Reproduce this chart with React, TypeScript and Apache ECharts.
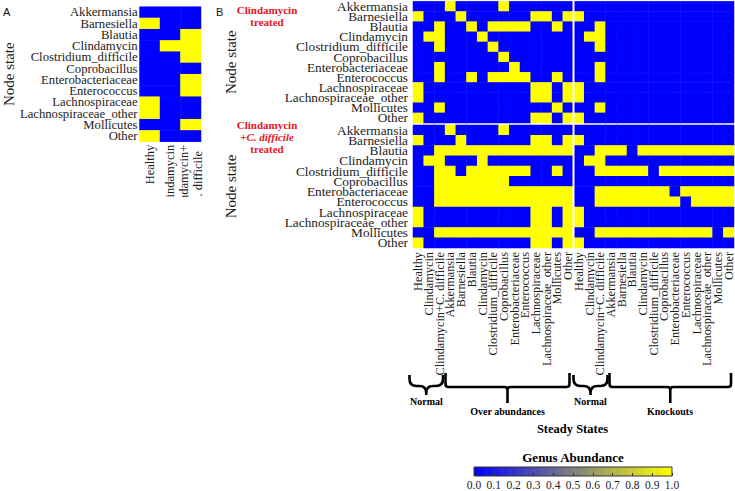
import React, { useEffect, useRef } from 'react';
import * as echarts from 'echarts';

const SERIF = '"Liberation Serif", "Times New Roman", serif';
const SANS = '"Liberation Sans", Arial, sans-serif';
const INK = '#1c1c1c';
const RED = '#e8141c';

// ---------- data ----------
const genera = [
  'Akkermansia', 'Barnesiella', 'Blautia', 'Clindamycin', 'Clostridium_difficile',
  'Coprobacillus', 'Enterobacteriaceae', 'Enterococcus', 'Lachnospiraceae',
  'Lachnospiraceae_other', 'Mollicutes', 'Other',
];

// Panel A columns
const panelAStates = ['Healthy', 'Clindamycin', 'Clindamycin+\nC. difficile\u00a0\u00a0'];

// Panel A values (rows = genera; cols = Healthy, Clindamycin, Clindamycin+C. difficile)
const panelAValues = [
  [0, 0, 0],
  [1, 0, 0],
  [0, 0, 1],
  [0, 1, 1],
  [0, 0, 1],
  [0, 0, 0],
  [0, 0, 1],
  [0, 0, 1],
  [1, 0, 0],
  [1, 0, 0],
  [0, 0, 1],
  [1, 0, 0],
];

// Panel B steady-state columns
const normalStates = ['Healthy', 'Clindamycin', 'Clindamycin+C. difficile'];
const overAbundanceStates = genera;
const knockoutStates = genera;
const steadyStates = [...normalStates, ...overAbundanceStates, ...normalStates, ...knockoutStates];

// Panel B, top: Clindamycin treated (rows = genera, 30 steady states)
const clindamycinTreated = [
  [0,0,0,1,0,0,0,0,1,0,0,0,0,0,0, 0,0,0,0,0,0,0,0,0,0,0,0,0,0,0],
  [1,0,0,0,1,0,0,0,0,0,0,1,1,0,1, 1,0,0,0,0,0,0,0,0,0,0,0,0,0,0],
  [0,0,1,0,0,1,0,1,1,1,1,0,0,1,0, 0,0,1,0,0,0,0,0,0,0,0,0,0,0,0],
  [0,1,1,0,0,0,1,0,0,0,0,0,0,0,0, 0,1,1,0,0,0,0,0,0,0,0,0,0,0,0],
  [0,0,1,0,0,0,0,1,0,0,0,0,0,0,0, 0,0,1,0,0,0,0,0,0,0,0,0,0,0,0],
  [0,0,0,0,0,0,0,0,1,0,0,0,0,0,0, 0,0,0,0,0,0,0,0,0,0,0,0,0,0,0],
  [0,0,1,0,0,0,0,0,0,1,0,0,0,0,0, 0,0,1,0,0,0,0,0,0,0,0,0,0,0,0],
  [0,0,1,0,0,1,0,1,1,1,1,0,0,1,0, 0,0,1,0,0,0,0,0,0,0,0,0,0,0,0],
  [1,0,0,0,0,0,0,0,0,0,0,1,1,0,1, 1,0,0,0,0,0,0,0,0,0,0,0,0,0,0],
  [1,0,0,0,0,0,0,0,0,0,0,1,1,0,1, 1,0,0,0,0,0,0,0,0,0,0,0,0,0,0],
  [0,0,1,0,0,0,0,0,0,0,0,0,0,1,0, 0,0,1,0,0,0,0,0,0,0,0,0,0,0,0],
  [1,0,0,0,0,0,0,0,0,0,0,1,1,0,1, 1,0,0,0,0,0,0,0,0,0,0,0,0,0,0],
];

// Panel B, bottom: Clindamycin + C. difficile treated
const clindamycinCdiffTreated = [
  [0,0,0,1,0,0,0,0,1,0,0,0,0,0,0, 0,0,0,0,0,0,0,0,0,0,0,0,0,0,0],
  [1,0,0,0,1,0,0,0,0,0,0,1,1,0,1, 1,0,0,0,0,0,0,0,0,0,0,0,0,0,0],
  [0,0,1,1,1,1,1,1,1,1,1,1,1,1,1, 0,0,1,1,1,0,1,1,1,1,1,1,1,1,1],
  [0,1,1,0,0,0,1,0,0,0,0,0,0,0,0, 0,1,1,0,0,0,0,0,0,0,0,0,0,0,0],
  [0,0,1,1,0,1,1,1,1,1,1,0,0,1,0, 0,0,1,1,1,1,1,0,1,1,1,1,1,1,1],
  [0,0,1,1,1,1,1,1,1,0,0,0,0,0,0, 0,0,0,0,0,0,0,0,0,0,0,0,0,0,0],
  [0,0,1,1,1,1,1,1,1,1,1,1,1,1,1, 0,0,1,1,1,1,1,1,1,0,1,1,1,1,1],
  [0,0,1,1,1,1,1,1,1,1,1,1,1,1,1, 0,0,1,1,1,1,1,1,1,1,0,1,1,1,1],
  [1,0,0,0,0,0,0,0,0,0,0,1,1,0,1, 1,0,0,0,0,0,0,0,0,0,0,0,0,0,0],
  [1,0,0,0,0,0,0,0,0,0,0,1,1,0,1, 1,0,0,0,0,0,0,0,0,0,0,0,0,0,0],
  [0,0,1,1,1,1,1,1,1,1,1,1,1,1,1, 0,0,1,1,1,1,1,1,1,1,1,1,1,0,1],
  [1,0,0,0,0,0,0,0,0,0,0,1,1,0,1, 1,0,0,0,0,0,0,0,0,0,0,0,0,0,0],
];

// Colour bar
const abundanceMin = 0;
const abundanceMax = 1;
const abundanceStep = 0.1;

// ---------- helpers ----------
function toCells(matrix: number[][]) {
  const out: number[][] = [];
  matrix.forEach((row, r) => row.forEach((v, c) => out.push([c, r, v])));
  return out;
}

function bracePath(x1: number, x2: number, y0: number, y1: number, y2: number, r: number) {
  const xm = (x1 + x2) / 2;
  return `M${x1} ${y0} L${x1} ${y1 - r} Q${x1} ${y1} ${x1 + r} ${y1} L${xm - r} ${y1} Q${xm} ${y1} ${xm} ${y1 + r} L${xm} ${y2} ` +
    `M${xm} ${y1 + r} Q${xm} ${y1} ${xm + r} ${y1} L${x2 - r} ${y1} Q${x2} ${y1} ${x2} ${y1 - r} L${x2} ${y0}`;
}

echarts.graphic.registerShape('braceNormalA', echarts.graphic.extendPath(bracePath(409.5, 443, 375, 386, 395, 7), {}));
echarts.graphic.registerShape('braceOver', echarts.graphic.extendPath(bracePath(445.5, 569.5, 373, 387, 403, 3), {}));
echarts.graphic.registerShape('braceNormalB', echarts.graphic.extendPath(bracePath(573.5, 607.5, 375, 386, 395, 7), {}));
echarts.graphic.registerShape('braceKnock', echarts.graphic.extendPath(bracePath(609.5, 731, 373, 387, 403, 3), {}));

function txt(text: string, x: number, y: number, font: string, fill = INK, align = 'center') {
  return {
    type: 'text', x, y, z: 100,
    style: { text, font, fill, align, textAlign: align, verticalAlign: 'middle', textVerticalAlign: 'middle' },
  };
}

export default function App() {
  const ref = useRef<HTMLDivElement>(null);

  useEffect(() => {
    if (!ref.current) return;
    const chart = echarts.init(ref.current, undefined, { renderer: 'svg' });

    const catY = (gridIndex: number, fontSize: number, margin: number, nameGap: number, lineHeight: number) => ({
      type: 'category', gridIndex, data: genera, inverse: true,
      axisLine: { show: false }, axisTick: { show: false }, splitLine: { show: false },
      axisLabel: { interval: 0, fontSize, margin, lineHeight, color: INK, fontFamily: SERIF },
      name: 'Node state', nameLocation: 'middle', nameRotate: 90, nameGap,
      nameTextStyle: { fontSize: 15, color: INK, fontFamily: SERIF },
    });

    const heat = (xi: number, data: number[][]) => ({
      type: 'heatmap', xAxisIndex: xi, yAxisIndex: xi, data,
      itemStyle: { borderWidth: 0 }, emphasis: { disabled: true }, silent: true,
    });

    const option: any = {
      animation: false,
      textStyle: { fontFamily: SERIF },
      visualMap: {
        show: false, type: 'continuous', min: abundanceMin, max: abundanceMax,
        seriesIndex: [0, 1, 2], inRange: { color: ['#0000ff', '#ffff00'] },
      },
      grid: [
        { left: 137, top: 6.7, width: 64, height: 135 },
        { left: 413, top: 0, width: 321, height: 123 },
        { left: 413, top: 125, width: 321, height: 123 },
        {
          left: 474, top: 467, width: 198, height: 10, show: true,
          backgroundColor: new echarts.graphic.LinearGradient(0, 0, 1, 0, [
            { offset: 0, color: '#0000ff' }, { offset: 1, color: '#ffff00' },
          ]),
          borderColor: '#333', borderWidth: 1,
        },
      ],
      xAxis: [
        {
          type: 'category', gridIndex: 0, data: panelAStates,
          axisLine: { show: false }, axisTick: { show: false },
          axisLabel: { rotate: 90, interval: 0, fontSize: 12.5, margin: 3, lineHeight: 14, color: INK, fontFamily: SERIF },
        },
        { type: 'category', gridIndex: 1, data: steadyStates, show: false },
        {
          type: 'category', gridIndex: 2, data: steadyStates,
          axisLine: { show: false }, axisTick: { show: false },
          axisLabel: { rotate: 90, interval: 0, fontSize: 12.3, margin: 4, lineHeight: 10, color: INK, fontFamily: SERIF },
        },
        {
          type: 'value', gridIndex: 3, min: abundanceMin, max: abundanceMax, interval: abundanceStep,
          axisLine: { show: false }, splitLine: { show: false },
          axisTick: { show: true, inside: true, length: 3, lineStyle: { color: '#333' } },
          axisLabel: {
            fontSize: 11.5, margin: 3, color: INK, fontFamily: SERIF, showMinLabel: true, showMaxLabel: true,
            formatter: (v: number) => v.toFixed(1),
          },
        },
      ],
      yAxis: [
        catY(0, 12.7, 2, 121, 11),
        catY(1, 13.3, 5, 175, 10),
        catY(2, 13.3, 5, 175, 10),
        { type: 'value', gridIndex: 3, min: 0, max: 1, show: false },
      ],
      series: [
        heat(0, toCells(panelAValues)),
        heat(1, toCells(clindamycinTreated)),
        heat(2, toCells(clindamycinCdiffTreated)),
        { type: 'scatter', xAxisIndex: 3, yAxisIndex: 3, data: [], silent: true },
      ],
      graphic: [
        // clip panel A labels
        { type: 'rect', z: 90, shape: { x: 128, y: 197, width: 86, height: 60 }, style: { fill: '#fff' } },
        // white separator between normal/over-abundance and normal/knockout blocks
        { type: 'line', z: 95, shape: { x1: 573.5, y1: 0, x2: 573.5, y2: 248 }, style: { stroke: '#fff', lineWidth: 2 } },
        txt('A', 3, 12, `11px ${SANS}`, '#111', 'left'),
        txt('B', 216, 12, `11px ${SANS}`, '#111', 'left'),
        txt('Clindamycin', 267, 10, `bold 11px ${SERIF}`, RED),
        txt('treated', 267, 21.5, `bold 11px ${SERIF}`, RED),
        txt('Clindamycin', 267, 124.5, `bold 11px ${SERIF}`, RED),
        {
          type: 'text', x: 267, y: 137, z: 100,
          style: {
            text: '{n|+}{i|C. difficile}', align: 'center', textAlign: 'center', verticalAlign: 'middle', textVerticalAlign: 'middle',
            fill: RED, font: `bold 11px ${SERIF}`,
            rich: {
              n: { fill: RED, fontWeight: 'bold', fontSize: 11, fontFamily: SERIF },
              i: { fill: RED, fontWeight: 'bold', fontStyle: 'italic', fontSize: 11, fontFamily: SERIF },
            },
          },
        },
        txt('treated', 267, 149, `bold 11px ${SERIF}`, RED),
        // braces
        { type: 'braceNormalA', z: 100, style: { fill: 'none', stroke: '#000', lineWidth: 2.6 } },
        { type: 'braceOver', z: 100, style: { fill: 'none', stroke: '#000', lineWidth: 2.6 } },
        { type: 'braceNormalB', z: 100, style: { fill: 'none', stroke: '#000', lineWidth: 2.6 } },
        { type: 'braceKnock', z: 100, style: { fill: 'none', stroke: '#000', lineWidth: 2.6 } },
        txt('Normal', 426.5, 401, `bold 10px ${SERIF}`, '#000'),
        txt('Over abundances', 507.5, 411, `bold 10px ${SERIF}`, '#000'),
        txt('Normal', 590.5, 401, `bold 10px ${SERIF}`, '#000'),
        txt('Knockouts', 670, 411, `bold 10px ${SERIF}`, '#000'),
        txt('Steady States', 572.5, 429, `bold 12.5px ${SERIF}`, '#000'),
        txt('Genus Abundance', 573, 457, `bold 13px ${SERIF}`, '#000'),
      ],
    };

    chart.setOption(option);
    return () => chart.dispose();
  }, []);

  return (
    <div
      ref={ref}
      style={{ position: 'absolute', left: 0, top: 0, width: 735, height: 491, background: '#fff' }}
    />
  );
}
